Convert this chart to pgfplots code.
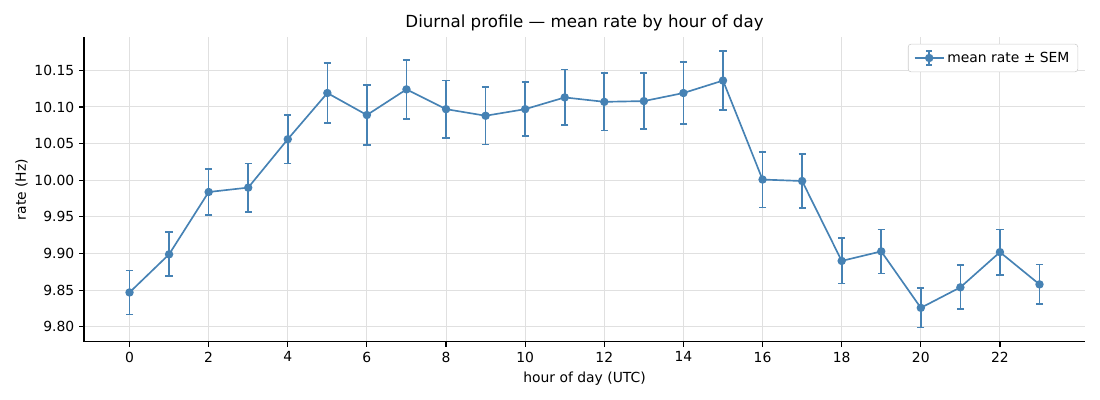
\documentclass[border=0pt]{standalone}
\usepackage{pgfplots}
\pgfplotsset{compat=1.18}
\usepackage{fontspec}
\setmainfont{DejaVu Sans}
\definecolor{steel}{HTML}{4682B4}
\begin{document}
\begin{tikzpicture}
\begin{axis}[
  scale only axis, width=720.7pt, height=219.6pt,
  xmin=-1.15, xmax=24.15, ymin=9.7795, ymax=10.1955,
  axis x line*=bottom, axis y line*=left,
  axis line style={line width=0.8pt, -},
  xtick={0,2,...,22},
  ytick={9.80,9.85,9.90,9.95,10.00,10.05,10.10,10.15},
  yticklabel={\pgfmathprintnumber[fixed,fixed zerofill,precision=2]{\tick}},
  /pgf/number format/assume math mode=true,
  tick style={black, line width=0.8pt},
  tick align=outside, major tick length=3.5pt,
  grid=major, grid style={black!12, line width=0.7pt},
  ticklabel style={font=\fontsize{10}{12}\selectfont},
  xlabel={hour of day (UTC)}, ylabel={rate (Hz)},
  label style={font=\fontsize{10}{12}\selectfont},
  xlabel style={yshift=0pt},
  ylabel style={yshift=-2pt},
  title={Diurnal profile — mean rate by hour of day},
  title style={font=\fontsize{12}{14}\selectfont, yshift=-5pt},
  legend style={at={(1,1)}, anchor=north east, xshift=-5pt, yshift=-5pt,
    font=\fontsize{10}{12}\selectfont, draw=black!20, rounded corners=2pt,
    inner xsep=4pt, inner ysep=3.5pt},
  legend cell align=left,
  legend image code/.code={
    \draw[steel, line width=1.2pt] (0pt,0pt) -- (21pt,0pt);
    \draw[steel, line width=1.2pt] (10.5pt,-5pt) -- (10.5pt,5pt);
    \draw[steel, line width=1.2pt] (8.3pt,-5pt) -- (12.7pt,-5pt) (8.3pt,5pt) -- (12.7pt,5pt);
    \fill[steel] (10.5pt,0pt) circle (2.4pt);
  },
]
\coordinate (bl) at (rel axis cs:0,0);
\coordinate (tr) at (rel axis cs:1,1);
\addplot[color=steel, line width=1.2pt, mark=*, mark size=2.4pt,
  error bars/.cd, y dir=both, y explicit,
  error bar style={line width=1.2pt, color=steel},
  error mark options={rotate=90, mark size=2.6pt, line width=1.2pt, color=steel}]
  table[x=h, y=m, y error=e] {
h m e
0 9.847 0.030
1 9.899 0.030
2 9.984 0.031
3 9.990 0.033
4 10.056 0.033
5 10.119 0.041
6 10.089 0.041
7 10.124 0.040
8 10.097 0.039
9 10.088 0.039
10 10.097 0.037
11 10.113 0.038
12 10.107 0.039
13 10.108 0.038
14 10.119 0.042
15 10.136 0.040
16 10.001 0.038
17 9.999 0.037
18 9.890 0.031
19 9.903 0.030
20 9.826 0.027
21 9.854 0.030
22 9.902 0.031
23 9.858 0.027
};
\addlegendentry{mean rate ± SEM}
\end{axis}
\pgfresetboundingbox
\path[use as bounding box] ([xshift=-60.5pt,yshift=-41.8pt]bl) rectangle ([xshift=10.8pt,yshift=26.6pt]tr);
\end{tikzpicture}
\end{document}
